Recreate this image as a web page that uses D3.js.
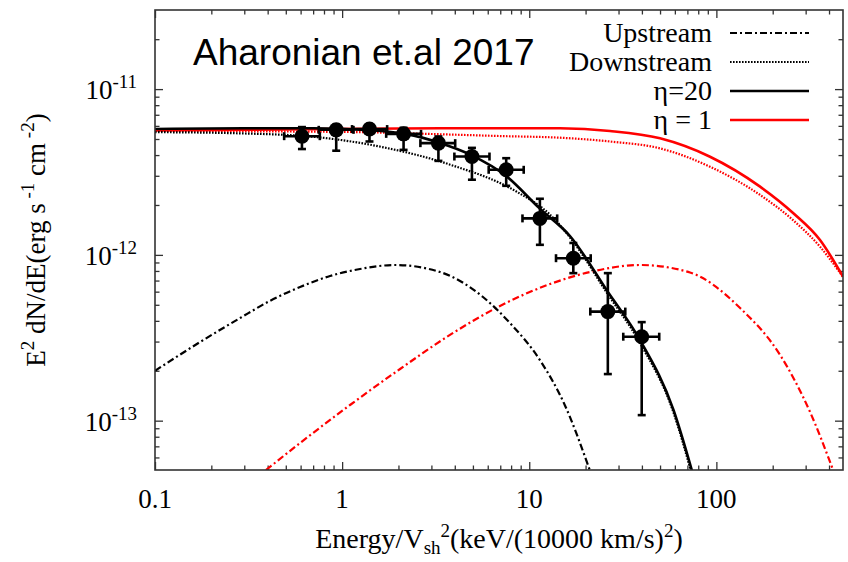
<!DOCTYPE html>
<html>
<head>
<meta charset="utf-8">
<script src="https://cdn.jsdelivr.net/npm/d3@7"></script>
<style>
  body { margin: 0; background: #fff; }
  text { fill: #000; }
</style>
</head>
<body>
<svg id="chart" width="848" height="562"></svg>
<script>
// ---- data ----
// measured points (energy, flux) with bin edges and flux errors
const ptX   = [0.61, 0.93, 1.40, 2.13, 3.27, 4.94, 7.53, 11.4, 17.2, 26.3, 39.9];
const ptY   = [5.2e-12, 5.68e-12, 5.74e-12, 5.37e-12, 4.72e-12, 3.92e-12, 3.26e-12, 1.66e-12, 9.55e-13, 4.55e-13, 3.21e-13];
const ptXlo = [0.49, 0.75, 1.13, 1.72, 2.62, 3.98, 6.07, 9.2, 13.9, 21.2, 31.8];
const ptXhi = [0.76, 1.15, 1.74, 2.64, 4.02, 6.13, 9.34, 14.1, 21.3, 32.6, 49.5];
const ptYlo = [4.35e-12, 4.25e-12, 4.83e-12, 4.3e-12, 3.69e-12, 2.84e-12, 2.61e-12, 1.15e-12, 7.76e-13, 1.91e-13, 1.08e-13];
const ptYhi = [5.9e-12, 6.09e-12, 6.09e-12, 5.84e-12, 5.18e-12, 4.42e-12, 3.83e-12, 2.18e-12, 1.18e-12, 7.76e-13, 3.93e-13];

// model curves [energy, flux]
const upstream20 = [[0.1, 2.0e-13], [0.174, 2.98e-13], [0.285, 4.16e-13], [0.41, 5.27e-13], [0.596, 6.4e-13],
  [0.862, 7.46e-13], [1.246, 8.22e-13], [1.92, 8.69e-13], [3.34, 7.88e-13], [5.66, 5.57e-13], [7.89, 3.88e-13],
  [11.4, 2.32e-13], [15.5, 1.24e-13], [21.1, 5.0e-14]];
const downstream20 = [[0.1, 5.5e-12], [0.3, 5.4e-12], [0.736, 5.13e-12], [1.67, 4.45e-12], [3.78, 3.5e-12],
  [8.59, 2.4e-12], [12.9, 1.75e-12], [17, 1.22e-12], [26, 5.9e-13], [39, 2.95e-13], [59, 1.12e-13], [73, 5.0e-14]];
const total20 = [[0.1, 5.75e-12], [0.3, 5.8e-12], [0.7, 5.8e-12], [1.4, 5.65e-12], [2.2, 5.35e-12], [3.3, 4.75e-12],
  [4.9, 4.0e-12], [7.5, 3.0e-12], [11.4, 1.9e-12], [16.5, 1.3e-12], [26, 6.1e-13], [39, 3.07e-13], [59, 1.16e-13], [74, 5.0e-14]];
const upstream1 = [[0.392, 5.04e-14], [0.596, 7.33e-14], [1.102, 1.243e-13], [2.04, 2.05e-13], [3.77, 3.29e-13],
  [6.98, 4.92e-13], [12.92, 6.67e-13], [21.1, 7.88e-13], [39.1, 8.69e-13], [72.3, 7.83e-13], [133.9, 4.78e-13],
  [219, 2.49e-13], [316.8, 1.127e-13], [420.5, 5.04e-14]];
const downstream1 = [[0.1, 5.59e-12], [1.102, 5.51e-12], [3.77, 5.32e-12], [6.98, 5.21e-12], [14.6, 5.09e-12],
  [27, 4.83e-12], [50, 4.39e-12], [92.5, 3.4e-12], [171.2, 2.3e-12], [257, 1.62e-12], [358, 1.12e-12], [475, 7.36e-13]];
const total1 = [[0.1, 5.63e-12], [2.04, 5.79e-12], [6.98, 5.81e-12], [14.6, 5.8e-12], [27, 5.59e-12], [50, 5.05e-12],
  [92.5, 3.91e-12], [171.2, 2.58e-12], [257, 1.79e-12], [358, 1.23e-12], [475, 7.39e-13]];

const xMajor = [0.1, 1, 10, 100];
const xMajorLabels = ['0.1', '1', '10', '100'];
const yMajor = [1e-13, 1e-12, 1e-11];
const yMajorExp = ['-13', '-12', '-11'];

const legendLabels = ['Upstream', 'Downstream', '\u03b7=20', '\u03b7 = 1'];

// ---- layout ----
const svg = d3.select('#chart');
const mLeft = 155, mRight = 843, mTop = 10, mBottom = 470;
const serif = 'Liberation Serif, Times New Roman, serif';

const x = d3.scaleLog().domain([0.1, 475]).range([mLeft, mRight]);
const y = d3.scaleLog().domain([5.04e-14, 3.0e-11]).range([mBottom, mTop]);

// minor ticks for each decade
const xMinor = [];
[0.1, 1, 10, 100].forEach(d => { for (let k = 2; k <= 9; k++) if (d * k <= 475) xMinor.push(d * k); });
const yMinor = [];
[1e-14, 1e-13, 1e-12, 1e-11].forEach(d => { for (let k = 2; k <= 9; k++) { const v = d * k; if (v > 5.04e-14 && v < 3e-11) yMinor.push(v); } });

svg.append('defs').append('clipPath').attr('id', 'plot-clip')
    .append('rect').attr('x', mLeft).attr('y', mTop).attr('width', mRight - mLeft).attr('height', mBottom - mTop);

// ticks on all four sides, pointing inwards
function tickAxis(axis, transform, values, size) {
    const g = svg.append('g').attr('transform', transform)
        .call(axis.tickValues(values).tickSize(size).tickFormat(''));
    g.select('.domain').remove();
    g.selectAll('line').attr('stroke', '#333').attr('stroke-width', 1.3);
}
tickAxis(d3.axisBottom(x), `translate(0,${mBottom})`, xMajor, -8);
tickAxis(d3.axisBottom(x), `translate(0,${mBottom})`, xMinor, -4.5);
tickAxis(d3.axisTop(x), `translate(0,${mTop})`, xMajor, -8);
tickAxis(d3.axisTop(x), `translate(0,${mTop})`, xMinor, -4.5);
tickAxis(d3.axisLeft(y), `translate(${mLeft},0)`, yMajor, -8);
tickAxis(d3.axisLeft(y), `translate(${mLeft},0)`, yMinor, -4.5);
tickAxis(d3.axisRight(y), `translate(${mRight},0)`, yMajor, -8);
tickAxis(d3.axisRight(y), `translate(${mRight},0)`, yMinor, -4.5);

// x tick labels
svg.selectAll('.xlab')
    .data(xMajor)
    .enter()
    .append('text')
    .attr('class', 'xlab')
    .attr('x', d => x(d))
    .attr('y', 508)
    .attr('text-anchor', 'middle')
    .style('font-family', serif)
    .style('font-size', '27px')
    .text((d, i) => xMajorLabels[i]);

// y tick labels: 10 with superscript exponent
const ylab = svg.selectAll('.ylab')
    .data(yMajor)
    .enter()
    .append('text')
    .attr('class', 'ylab')
    .attr('x', 137)
    .attr('y', d => y(d) + 10)
    .attr('text-anchor', 'end')
    .style('font-family', serif)
    .style('font-size', '27px');
ylab.append('tspan').text('10');
ylab.append('tspan').attr('dy', -11).style('font-size', '19px').text((d, i) => yMajorExp[i]);

// axis titles
const xt = svg.append('text')
    .attr('x', (mLeft + mRight) / 2)
    .attr('y', 548)
    .attr('text-anchor', 'middle')
    .style('font-family', serif)
    .style('font-size', '28px');
xt.append('tspan').text('Energy/V');
xt.append('tspan').attr('dy', 6).style('font-size', '19px').text('sh');
xt.append('tspan').attr('dy', -17).style('font-size', '19px').text('2');
xt.append('tspan').attr('dy', 11).text('(keV/(10000 km/s)');
xt.append('tspan').attr('dy', -11).style('font-size', '19px').text('2');
xt.append('tspan').attr('dy', 11).text(')');

const yt = svg.append('text')
    .attr('transform', 'translate(45,240) rotate(-90)')
    .attr('text-anchor', 'middle')
    .style('font-family', serif)
    .style('font-size', '27px');
yt.append('tspan').text('E');
yt.append('tspan').attr('dy', -11).style('font-size', '19px').text('2');
yt.append('tspan').attr('dy', 11).text(' dN/dE(erg s');
yt.append('tspan').attr('dy', -11).style('font-size', '19px').text(' -1');
yt.append('tspan').attr('dy', 11).text(' cm');
yt.append('tspan').attr('dy', -11).style('font-size', '19px').text(' -2');
yt.append('tspan').attr('dy', 11).text(')');

// model curves
const line = d3.line()
    .x(d => x(d[0]))
    .y(d => y(d[1]))
    .curve(d3.curveMonotoneX);

const curves = [
    { data: downstream1, color: '#f00', dash: '1.6,1.4', width: 2.2 },
    { data: upstream1, color: '#f00', dash: '7,3,2,3', width: 2.2 },
    { data: total1, color: '#f00', dash: null, width: 2.6 },
    { data: downstream20, color: '#000', dash: '1.6,1.4', width: 2.2 },
    { data: upstream20, color: '#000', dash: '7,3,2,3', width: 2.2 },
    { data: total20, color: '#000', dash: null, width: 2.6 }
];

const plot = svg.append('g').attr('clip-path', 'url(#plot-clip)');
plot.selectAll('.curve')
    .data(curves)
    .enter()
    .append('path')
    .attr('class', 'curve')
    .attr('d', d => line(d.data))
    .attr('fill', 'none')
    .attr('stroke', d => d.color)
    .attr('stroke-width', d => d.width)
    .attr('stroke-dasharray', d => d.dash);

// data points with error bars
const cap = 4;
const pts = d3.range(ptX.length);
const eb = svg.append('g').attr('stroke', '#000').attr('stroke-width', 2.6);
pts.forEach(i => {
    const cx = x(ptX[i]), cy = y(ptY[i]);
    const x0 = x(ptXlo[i]), x1 = x(ptXhi[i]);
    const y0 = y(ptYlo[i]), y1 = y(ptYhi[i]);
    eb.append('line').attr('x1', x0).attr('x2', x1).attr('y1', cy).attr('y2', cy);
    eb.append('line').attr('x1', x0).attr('x2', x0).attr('y1', cy - cap).attr('y2', cy + cap);
    eb.append('line').attr('x1', x1).attr('x2', x1).attr('y1', cy - cap).attr('y2', cy + cap);
    eb.append('line').attr('x1', cx).attr('x2', cx).attr('y1', y0).attr('y2', y1);
    eb.append('line').attr('x1', cx - cap).attr('x2', cx + cap).attr('y1', y0).attr('y2', y0);
    eb.append('line').attr('x1', cx - cap).attr('x2', cx + cap).attr('y1', y1).attr('y2', y1);
});
svg.selectAll('.pt')
    .data(pts)
    .enter()
    .append('circle')
    .attr('class', 'pt')
    .attr('cx', i => x(ptX[i]))
    .attr('cy', i => y(ptY[i]))
    .attr('r', 7.5)
    .attr('fill', '#000');

// frame
svg.append('rect')
    .attr('x', mLeft).attr('y', mTop)
    .attr('width', mRight - mLeft).attr('height', mBottom - mTop)
    .attr('fill', 'none')
    .attr('stroke', '#333')
    .attr('stroke-width', 1.6);

// legend
const legendStyles = [
    { color: '#000', dash: '7,3,2,3', width: 2.2 },
    { color: '#000', dash: '1.6,1.4', width: 2.2 },
    { color: '#000', dash: null, width: 2.6 },
    { color: '#f00', dash: null, width: 2.6 }
];
const legend = svg.selectAll('.legend')
    .data(legendLabels)
    .enter()
    .append('g')
    .attr('class', 'legend')
    .attr('transform', (d, i) => `translate(0, ${33 + i * 29})`);
legend.append('text')
    .attr('x', 712)
    .attr('y', 9)
    .attr('text-anchor', 'end')
    .style('font-family', serif)
    .style('font-size', '28px')
    .text(d => d);
legend.append('line')
    .attr('x1', 730).attr('x2', 809)
    .attr('y1', 0).attr('y2', 0)
    .attr('stroke', (d, i) => legendStyles[i].color)
    .attr('stroke-width', (d, i) => legendStyles[i].width)
    .attr('stroke-dasharray', (d, i) => legendStyles[i].dash);

// title
svg.append('text')
    .attr('x', 193)
    .attr('y', 65)
    .style('font-family', 'Liberation Sans, Arial, sans-serif')
    .style('font-size', '37px')
    .text('Aharonian et.al 2017');
</script>
</body>
</html>
